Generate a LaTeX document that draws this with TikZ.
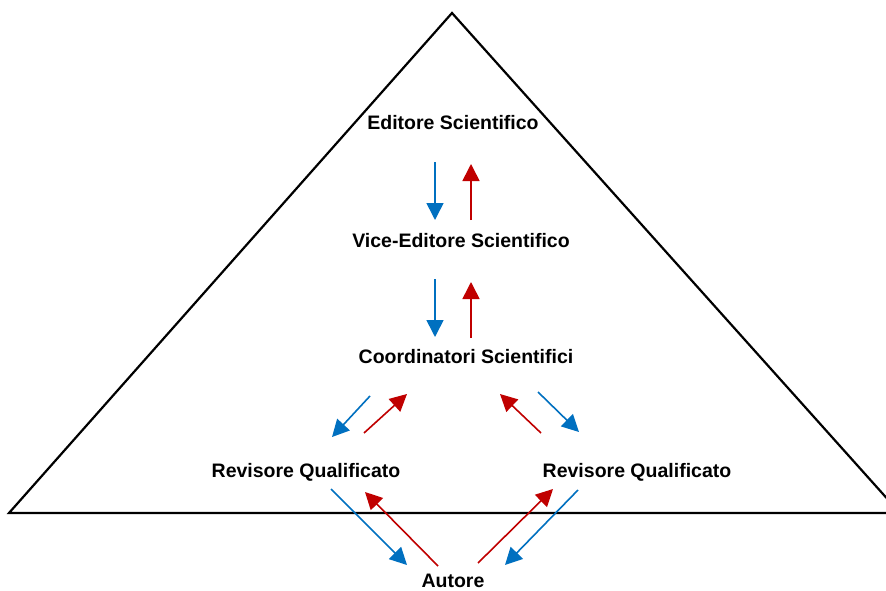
\documentclass[tikz,border=0pt]{standalone}
\usepackage{fontspec}
\setmainfont{Liberation Sans}
\usetikzlibrary{arrows.meta}
\definecolor{flowblue}{HTML}{0070C0}
\definecolor{flowred}{HTML}{C00000}
\tikzset{
  lbl/.style={font=\fontsize{19.5}{22}\selectfont\bfseries, inner sep=0pt, anchor=center},
  down/.style={draw=flowblue, line width=1.6pt, -{Triangle[length=17pt,width=17pt]}},
  up/.style={draw=flowred, line width=1.6pt, -{Triangle[length=17pt,width=17pt]}},
  frame/.style={draw=black, line width=2.2pt, line join=miter}
}
\begin{document}
\begin{tikzpicture}[x=1pt,y=-1pt]
\clip (0,0) rectangle (886,591);
\fill[white] (0,0) rectangle (886,591);
\draw[frame] (452,13) -- (9,513) -- (900,513) -- cycle;
\node[lbl] (ed) at (453,123) {Editore Scientifico};
\node[lbl] (ved) at (461,241) {Vice-Editore Scientifico};
\node[lbl] (coo) at (466,357) {Coordinatori Scientifici};
\node[lbl] (revl) at (306,472) {Revisore Qualificato};
\node[lbl] (revr) at (637,472) {Revisore Qualificato};
\node[lbl] (aut) at (453,581) {Autore};
% pair 1
\coordinate (b1s) at (435,162); \coordinate (b1e) at (435,220);
\coordinate (r1s) at (471,220); \coordinate (r1e) at (471,164);
\draw[down] (b1s) -- (b1e);
\draw[up] (r1s) -- (r1e);
% pair 2
\coordinate (b2s) at (435,279); \coordinate (b2e) at (435,337);
\coordinate (r2s) at (471,338); \coordinate (r2e) at (471,282);
\draw[down] (b2s) -- (b2e);
\draw[up] (r2s) -- (r2e);
% left pair
\coordinate (b3s) at (370,396); \coordinate (b3e) at (332,437);
\coordinate (r3s) at (364,433); \coordinate (r3e) at (407,394);
\draw[down] (b3s) -- (b3e);
\draw[up] (r3s) -- (r3e);
% right pair
\coordinate (b4s) at (538,392); \coordinate (b4e) at (579,432);
\coordinate (r4s) at (541,433); \coordinate (r4e) at (500,394);
\draw[down] (b4s) -- (b4e);
\draw[up] (r4s) -- (r4e);
% bottom left
\coordinate (b5s) at (331,489); \coordinate (b5e) at (407,565);
\coordinate (r5s) at (438,566); \coordinate (r5e) at (365,492);
\draw[down] (b5s) -- (b5e);
\draw[up] (r5s) -- (r5e);
% bottom right
\coordinate (b6s) at (578,490); \coordinate (b6e) at (505,565);
\coordinate (r6s) at (478,563); \coordinate (r6e) at (553,489);
\draw[down] (b6s) -- (b6e);
\draw[up] (r6s) -- (r6e);
\end{tikzpicture}
\end{document}
